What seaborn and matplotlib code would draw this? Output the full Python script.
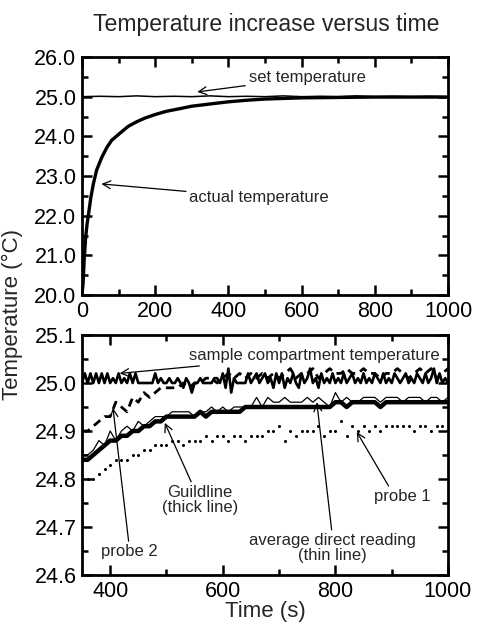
import numpy as np
import pandas as pd
import matplotlib
matplotlib.use("Agg")
import matplotlib.pyplot as plt
from matplotlib.ticker import MultipleLocator, FormatStrFormatter
import seaborn as sns

# ---------------- data: top panel ----------------
top_time = [0, 3, 6, 10, 14, 18, 24, 31, 40, 54, 68, 81, 100, 126, 150, 172, 200,
            230, 263, 300, 354, 400, 450, 500, 600, 700, 800, 900, 1000]
actual_temp = [20.0, 20.3, 20.9, 21.45, 21.8, 22.05, 22.45, 22.8, 23.15, 23.47, 23.72,
               23.9, 24.05, 24.25, 24.37, 24.46, 24.55, 24.63, 24.69, 24.76, 24.82,
               24.87, 24.91, 24.94, 24.97, 24.98, 24.99, 24.99, 24.99]
set_time = [0, 50, 100, 150, 200, 250, 300, 350, 400, 450, 500, 550, 600, 650, 700,
            750, 800, 850, 900, 950, 1000]
set_temp = [25.0, 25.01, 25.0, 25.02, 25.0, 25.01, 25.0, 25.02, 25.0, 25.01, 25.0,
            25.02, 25.0, 25.01, 25.0, 25.02, 25.0, 25.01, 25.0, 25.01, 25.0]

# ---------------- data: bottom panel ----------------
sc_time = list(range(350, 1001, 5))
sample_compartment = [
    25.00, 25.02, 25.00, 25.02, 25.00, 25.02, 25.00, 25.02, 25.00, 25.02,
    25.00, 25.01, 25.00, 25.02, 25.00, 25.01, 25.00, 25.02, 25.00, 25.02,
    25.00, 25.00, 25.00, 25.00, 25.00, 25.00, 25.02, 25.00, 25.01, 25.00,
    25.00, 25.01, 25.00, 25.00, 25.01, 25.00, 24.99, 25.01, 25.00, 24.98,
    25.00, 25.00, 25.01, 25.00, 25.00, 25.00, 25.00, 25.01, 25.01, 25.00,
    25.02, 24.99, 25.03, 24.98, 25.01, 25.00, 25.00, 25.00, 25.00, 25.02,
    25.00, 25.01, 25.02, 25.00, 25.01, 25.02, 25.00, 25.01, 24.99, 25.02,
    25.00, 25.02, 24.99, 25.01, 25.00, 25.02, 25.00, 24.99, 25.02, 25.00,
    25.01, 25.03, 25.00, 25.01, 24.99, 25.02, 25.00, 25.01, 25.00, 25.02,
    25.00, 25.01, 25.00, 25.02, 25.00, 25.01, 25.02, 25.00, 25.01, 25.00,
    25.02, 25.00, 25.01, 25.00, 25.02, 25.01, 25.00, 25.02, 25.00, 25.01,
    25.00, 25.02, 25.01, 25.00, 25.01, 25.02, 25.00, 25.01, 25.00, 25.02,
    25.01, 25.00, 25.02, 25.00, 25.01, 25.03, 25.00, 25.02, 25.00, 25.01,
    25.00]

bt_time = list(range(350, 1001, 10))
probe2 = [
    24.90, 24.90, 24.91, 24.92, 24.93, 24.93, 24.96, 24.95, 24.94, 24.97,
    24.96, 24.98, 24.97, 24.98, 24.99, 24.99, 24.99, 24.99, 25.00, 24.99,
    25.00, 25.00, 25.01, 25.01, 25.00, 25.01, 25.02, 25.01, 25.02, 25.01,
    25.02, 25.01, 25.02, 25.01, 25.02, 25.01, 25.02, 25.03, 25.01, 25.02,
    25.02, 25.03, 25.01, 25.02, 25.03, 25.02, 25.02, 25.03, 25.02, 25.02,
    25.03, 25.02, 25.02, 25.01, 25.02, 25.02, 25.03, 25.02, 25.01, 25.02,
    25.03, 25.02, 25.03, 25.01, 25.02, 25.03]
guildline = [
    24.84, 24.84, 24.85, 24.86, 24.87, 24.88, 24.88, 24.89, 24.89, 24.90,
    24.90, 24.91, 24.91, 24.92, 24.92, 24.93, 24.93, 24.93, 24.93, 24.93,
    24.93, 24.94, 24.93, 24.94, 24.94, 24.94, 24.94, 24.94, 24.94, 24.95,
    24.95, 24.95, 24.95, 24.95, 24.95, 24.95, 24.95, 24.95, 24.95, 24.95,
    24.95, 24.95, 24.95, 24.95, 24.95, 24.96, 24.96, 24.95, 24.96, 24.96,
    24.96, 24.96, 24.96, 24.95, 24.96, 24.96, 24.96, 24.96, 24.96, 24.96,
    24.96, 24.96, 24.96, 24.96, 24.96, 24.96]
average_direct = [
    24.85, 24.85, 24.86, 24.88, 24.87, 24.90, 24.88, 24.90, 24.91, 24.90,
    24.92, 24.91, 24.92, 24.93, 24.93, 24.93, 24.94, 24.94, 24.94, 24.94,
    24.93, 24.94, 24.94, 24.95, 24.94, 24.95, 24.94, 24.95, 24.95, 24.95,
    24.95, 24.97, 24.95, 24.97, 24.96, 24.96, 24.97, 24.96, 24.96, 24.96,
    24.97, 24.96, 24.97, 24.96, 24.95, 24.98, 24.96, 24.97, 24.96, 24.96,
    24.97, 24.97, 24.97, 24.96, 24.97, 24.97, 24.97, 24.96, 24.97, 24.97,
    24.97, 24.96, 24.97, 24.97, 24.96, 24.97]
probe1 = [
    24.79, 24.80, 24.80, 24.81, 24.82, 24.83, 24.84, 24.84, 24.84, 24.85,
    24.85, 24.86, 24.86, 24.87, 24.87, 24.87, 24.88, 24.88, 24.87, 24.88,
    24.88, 24.88, 24.89, 24.88, 24.89, 24.89, 24.88, 24.89, 24.89, 24.88,
    24.89, 24.89, 24.89, 24.90, 24.90, 24.91, 24.88, 24.90, 24.89, 24.90,
    24.90, 24.90, 24.91, 24.89, 24.90, 24.90, 24.92, 24.89, 24.91, 24.90,
    24.91, 24.90, 24.91, 24.90, 24.91, 24.91, 24.91, 24.91, 24.91, 24.90,
    24.91, 24.91, 24.90, 24.91, 24.91, 24.90]

title = "Temperature increase versus time"
ylabel = "Temperature (°C)"
xlabel = "Time (s)"

# ---------------- style ----------------
sns.set_style("white")
plt.rcParams['font.family'] = ['Liberation Sans', 'DejaVu Sans']

fig = plt.figure(figsize=(4.84, 6.25), dpi=100)
ax1 = fig.add_axes([82/484, 1-295/625, 366/484, 238/625])
ax2 = fig.add_axes([82/484, 1-575/625, 366/484, 240/625])

df_top_a = pd.DataFrame({"t": top_time, "T": actual_temp})
df_top_s = pd.DataFrame({"t": set_time, "T": set_temp})
sns.lineplot(data=df_top_s, x="t", y="T", ax=ax1, color="black", lw=1.1)
sns.lineplot(data=df_top_a, x="t", y="T", ax=ax1, color="black", lw=2.4)

df_sc = pd.DataFrame({"t": sc_time, "T": sample_compartment})
df_p2 = pd.DataFrame({"t": bt_time, "T": probe2})
df_g = pd.DataFrame({"t": bt_time, "T": guildline})
df_a = pd.DataFrame({"t": bt_time, "T": average_direct})
df_p1 = pd.DataFrame({"t": bt_time, "T": probe1})

sns.lineplot(data=df_p2, x="t", y="T", ax=ax2, color="black", lw=2.0, dashes=False,
             linestyle=(0, (3, 2)))
sns.lineplot(data=df_sc, x="t", y="T", ax=ax2, color="black", lw=1.9)
sns.lineplot(data=df_g, x="t", y="T", ax=ax2, color="black", lw=3.2)
sns.lineplot(data=df_a, x="t", y="T", ax=ax2, color="black", lw=0.9)
sns.lineplot(data=df_p1, x="t", y="T", ax=ax2, color="black", linestyle="",
             marker="o", markersize=2.2, markeredgewidth=0)

for ax in (ax1, ax2):
    for s in ax.spines.values():
        s.set_linewidth(2.0)
        s.set_color("black")
    ax.tick_params(which="both", direction="in", top=True, right=True,
                   bottom=True, left=True, width=1.8, colors="black",
                   labelsize=15.5)
    ax.tick_params(which="major", length=7, pad=4)
    ax.tick_params(which="minor", length=4)
    ax.set_xlabel("")
    ax.set_ylabel("")

ax1.set_xlim(0, 1000)
ax1.set_ylim(20, 26)
ax1.xaxis.set_major_locator(MultipleLocator(200))
ax1.xaxis.set_minor_locator(MultipleLocator(100))
ax1.yaxis.set_major_locator(MultipleLocator(1))
ax1.yaxis.set_minor_locator(MultipleLocator(0.5))
ax1.yaxis.set_major_formatter(FormatStrFormatter("%.1f"))

ax2.set_xlim(350, 1000)
ax2.set_ylim(24.6, 25.1)
ax2.xaxis.set_major_locator(MultipleLocator(200))
ax2.xaxis.set_minor_locator(MultipleLocator(100))
ax2.yaxis.set_major_locator(MultipleLocator(0.1))
ax2.yaxis.set_minor_locator(MultipleLocator(0.05))
ax2.yaxis.set_major_formatter(FormatStrFormatter("%.1f"))

arrow = dict(arrowstyle="->", color="black", lw=0.9, shrinkA=0, shrinkB=0,
             mutation_scale=14)
afs = 12
ax1.annotate("set temperature", xy=(315, 25.12), xytext=(455, 25.48),
             fontsize=afs, ha="left", va="center", arrowprops=arrow)
ax1.annotate("actual temperature", xy=(53, 22.8), xytext=(293, 22.45),
             fontsize=afs, ha="left", va="center", arrowprops=arrow)

ax2.annotate("sample compartment temperature", xy=(417, 25.02), xytext=(540, 25.058),
             fontsize=afs, ha="left", va="center", arrowprops=arrow)
ax2.annotate("probe 2", xy=(405, 24.948), xytext=(435, 24.648),
             fontsize=afs, ha="center", va="center", arrowprops=arrow)
ax2.annotate("Guildline\n(thick line)", xy=(497, 24.917), xytext=(560, 24.756),
             fontsize=afs, ha="center", va="center", linespacing=1.0,
             arrowprops=dict(arrow, relpos=(0.4, 1.0)))
ax2.annotate("average direct reading\n(thin line)", xy=(767, 24.96), xytext=(794, 24.656),
             fontsize=afs, ha="center", va="center", linespacing=1.0,
             arrowprops=dict(arrow, relpos=(0.5, 1.0)))
ax2.annotate("probe 1", xy=(838, 24.898), xytext=(918, 24.763),
             fontsize=afs, ha="center", va="center",
             arrowprops=dict(arrow, relpos=(0.3, 1.0)))

fig.text(266/484, 1-25/625, title, ha="center", va="center", fontsize=16.6)
fig.text(12/484, 1-315/625, ylabel, ha="center", va="center", rotation=90, fontsize=16)
fig.text(265/484, 1-611/625, xlabel, ha="center", va="center", fontsize=16)

fig.savefig("out.png", dpi=100)
